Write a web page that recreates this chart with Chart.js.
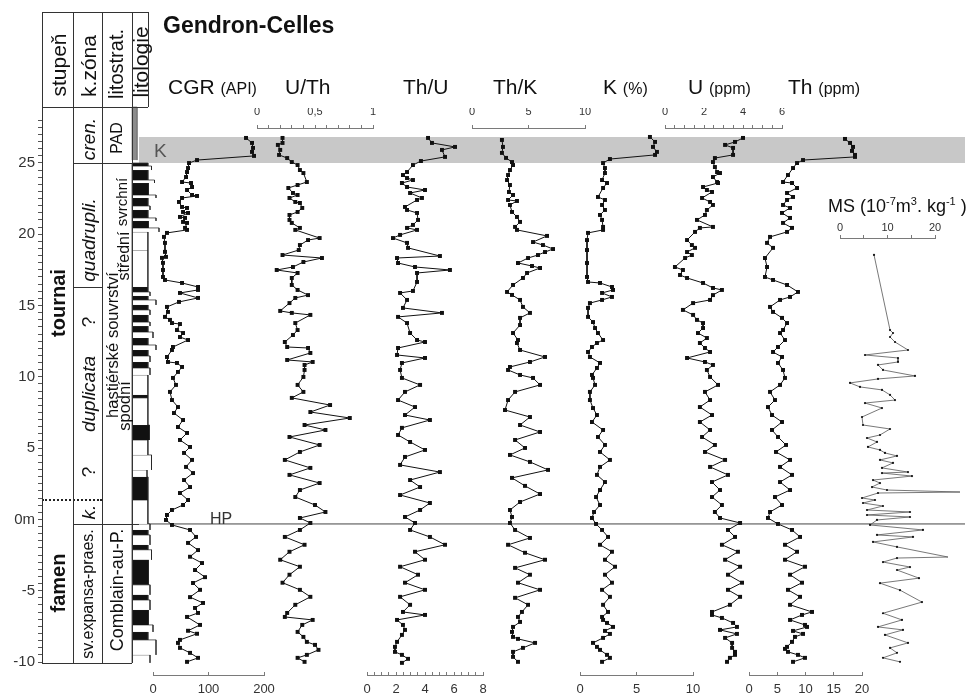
<!DOCTYPE html>
<html><head><meta charset="utf-8">
<script src="https://cdn.jsdelivr.net/npm/chart.js@4.4.1/dist/chart.umd.min.js"></script>
<style>
html,body{margin:0;padding:0;background:#fff}
body{position:relative;width:968px;height:697px;overflow:hidden;font-family:"Liberation Sans",Arial,Helvetica,sans-serif;color:#111}
#charts{position:absolute;left:0;top:0;width:968px;height:697px}
canvas.layer{position:absolute;left:0;top:0}
.t{position:absolute;white-space:nowrap;transform:translateY(-50%);line-height:1}
.v{position:absolute;white-space:nowrap;line-height:1;transform:translate(-50%,-50%) rotate(-90deg)}
.h{position:absolute;height:0;border-top:1px solid #333}
.w{position:absolute;width:0;border-left:1px solid #333}
.s{font-size:16px}
sup{font-size:11px}
</style></head><body>
<div id="charts"></div>

<!-- strat table frame -->
<div class="h" style="left:42px;top:12px;width:106px"></div>
<div class="h" style="left:42px;top:107px;width:106px"></div>
<div class="h" style="left:42px;top:663px;width:90px"></div>
<div class="h" style="left:73px;top:163px;width:59px"></div>
<div class="h" style="left:73px;top:287px;width:29px"></div>
<div class="h" style="left:73px;top:524px;width:66px"></div>
<div class="h" style="left:42px;top:499px;width:60px;border-top:2px dotted #222"></div>
<div class="w" style="left:42px;top:12px;height:651px"></div>
<div class="w" style="left:73px;top:12px;height:651px"></div>
<div class="w" style="left:102px;top:12px;height:651px"></div>
<div class="w" style="left:132px;top:12px;height:651px"></div>
<div class="w" style="left:148px;top:12px;height:95px"></div>

<!-- header texts -->
<div class="v" style="left:58px;top:65px;font-size:21px">stupeň</div>
<div class="v" style="left:88px;top:66px;font-size:21px">k.zóna</div>
<div class="v" style="left:116px;top:64px;font-size:20px">litostrat.</div>
<div class="v" style="left:140px;top:62px;font-size:21px">litologie</div>

<div class="v" style="left:58px;top:303px;font-size:20px;font-weight:bold">tournai</div>
<div class="v" style="left:58px;top:583px;font-size:20px;font-weight:bold">famen</div>

<div class="v" style="left:88px;top:139px;font-size:19px;font-style:italic">cren.</div>
<div class="v" style="left:88px;top:240px;font-size:19px;font-style:italic">quadrupli.</div>
<div class="v" style="left:88px;top:322px;font-size:19px">?</div>
<div class="v" style="left:88px;top:394px;font-size:19px;font-style:italic">duplicata</div>
<div class="v" style="left:88px;top:472px;font-size:19px">?</div>
<div class="v" style="left:88px;top:512px;font-size:19px;font-style:italic">k.</div>
<div class="v" style="left:88px;top:594px;font-size:16px">sv.expansa-praes.</div>

<div class="v" style="left:117px;top:138px;font-size:16px">PAD</div>
<div class="v" style="left:121px;top:202px;font-size:15px">svrchní</div>
<div class="v" style="left:124px;top:256px;font-size:16px">střední</div>
<div class="v" style="left:112px;top:345px;font-size:16.5px">hastiérské souvrství</div>
<div class="v" style="left:124px;top:406px;font-size:16.5px">spodní</div>
<div class="v" style="left:117px;top:590px;font-size:18px">Comblain-au-P.</div>

<!-- titles -->
<div class="t" style="left:163px;top:25px;font-size:23px;font-weight:bold">Gendron-Celles</div>
<div class="t" style="left:168px;top:86px;font-size:21px">CGR <span class="s">(API)</span></div>
<div class="t" style="left:285px;top:86px;font-size:21px">U/Th</div>
<div class="t" style="left:403px;top:86px;font-size:21px">Th/U</div>
<div class="t" style="left:493px;top:86px;font-size:21px">Th/K</div>
<div class="t" style="left:603px;top:86px;font-size:21px">K <span class="s">(%)</span></div>
<div class="t" style="left:688px;top:86px;font-size:21px">U <span class="s">(ppm)</span></div>
<div class="t" style="left:788px;top:86px;font-size:21px">Th <span class="s">(ppm)</span></div>
<div class="t" style="left:828px;top:205px;font-size:18px">MS (10<sup>-7</sup>m<sup>3</sup>. kg<sup>-1</sup> )</div>
<div class="t" style="left:154px;top:150px;font-size:19px;color:#555">K</div>
<div class="t" style="left:210px;top:519px;font-size:16px;color:#333">HP</div>

<script>
// ---------------- DATA (depth in m, value) ----------------
const cgrLog = [[26.75,167.6],[26.40,178.4],[26.05,180.2],[25.77,178.4],[25.49,182.0],[25.20,79.3],[24.99,64.9],[24.64,63.1],[24.36,61.3],[24.01,59.5],[23.66,52.3],[23.59,68.5],[23.31,70.3],[23.10,61.3],[22.75,70.3],[22.68,79.3],[22.54,52.3],[22.26,46.8],[21.91,52.3],[21.84,61.3],[21.56,54.1],[21.49,63.1],[21.21,48.6],[21.14,57.7],[20.86,54.1],[20.79,61.3],[20.44,57.7],[20.30,61.3],[20.09,25.2],[19.81,19.8],[19.39,21.6],[18.76,21.6],[18.41,23.4],[18.34,16.2],[17.99,18.0],[17.49,18.0],[17.00,18.0],[16.79,21.6],[16.58,52.3],[16.30,81.1],[16.09,81.1],[15.88,48.6],[15.53,81.1],[15.25,46.8],[14.90,25.2],[14.55,27.0],[14.20,21.6],[13.99,30.6],[13.77,34.2],[13.70,48.6],[13.28,43.2],[13.07,54.1],[12.79,48.6],[12.58,63.1],[12.09,36.0],[11.88,34.2],[11.39,25.2],[11.04,27.0],[10.97,43.2],[10.69,52.3],[10.34,45.0],[9.92,36.0],
[9.43,41.4],[8.94,30.6],[8.37,34.2],[7.88,45.0],[7.46,37.8],[6.97,54.1],[6.48,45.0],[6.06,61.3],[5.57,48.6],[5.08,66.7],[4.66,55.9],[4.17,70.3],[3.68,59.5],[3.25,72.1],[2.76,55.9],[2.27,66.7],[1.85,48.6],[1.36,63.1],[1.01,54.1],[0.66,34.2],[0.31,25.2],[-0.04,23.4],[-0.39,34.2],[-0.74,66.7],[-1.23,77.5],[-1.65,63.1],[-2.15,81.1],[-2.62,66.7],[-3.06,88.3],[-3.55,75.7],[-4.05,93.7],[-4.46,72.1],[-4.94,84.7],[-5.45,66.7],[-5.86,90.1],[-6.21,75.7],[-6.56,81.1],[-6.84,61.3],[-7.40,84.7],[-7.81,63.1],[-8.02,79.3],[-8.45,48.6],[-8.66,45.0],[-9.01,48.6],[-9.36,66.7],[-9.71,81.1],[-9.99,61.3]];

const uThLog = [[26.75,0.22],[26.40,0.22],[26.26,0.18],[25.91,0.20],[25.56,0.19],[25.34,0.26],[25.06,0.30],[24.85,0.35],[24.50,0.37],[24.29,0.40],[23.66,0.43],[23.45,0.35],[23.24,0.27],[22.89,0.31],[22.75,0.35],[22.54,0.28],[22.26,0.33],[22.19,0.37],[21.84,0.39],[21.56,0.35],[21.35,0.28],[21.00,0.28],[20.79,0.30],[20.44,0.37],[20.30,0.33],[19.73,0.54],[19.59,0.44],[19.24,0.37],[18.89,0.36],[18.54,0.22],[18.33,0.56],[18.05,0.40],[17.70,0.31],[17.49,0.17],[17.28,0.35],[16.93,0.30],[16.44,0.30],[16.09,0.35],[15.73,0.44],[15.53,0.33],[15.17,0.28],[14.62,0.20],[14.48,0.30],[14.34,0.46],[13.77,0.33],[13.28,0.35],[12.93,0.31],[12.44,0.24],[12.09,0.26],[12.02,0.44],[11.67,0.46],[11.18,0.26],[11.04,0.48],[10.83,0.41],[10.48,0.41],[9.99,0.40],
[9.43,0.35],[8.94,0.40],[8.52,0.30],[8.02,0.63],[7.53,0.46],[7.11,0.80],[6.62,0.41],[6.27,0.59],[5.78,0.28],[5.22,0.54],[4.73,0.37],[4.17,0.24],[3.61,0.46],[3.12,0.28],[2.55,0.54],[2.06,0.37],[1.57,0.33],[1.01,0.50],[0.52,0.59],[0.10,0.37],[-0.25,0.46],[-0.74,0.37],[-1.23,0.24],[-1.78,0.41],[-2.27,0.28],[-2.83,0.20],[-3.32,0.37],[-3.88,0.28],[-4.44,0.22],[-4.94,0.37],[-5.43,0.46],[-5.99,0.33],[-6.56,0.26],[-6.84,0.24],[-7.05,0.48],[-7.40,0.39],[-7.89,0.35],[-8.24,0.40],[-8.59,0.43],[-8.80,0.50],[-9.15,0.53],[-9.50,0.43],[-9.71,0.35],[-9.99,0.41]];

const thULog = [[26.75,4.21],[26.40,4.48],[26.12,6.07],[25.91,5.17],[25.42,5.38],[25.13,3.72],[24.85,3.17],[24.36,2.76],[24.15,2.48],[23.94,2.76],[23.80,3.17],[23.59,2.41],[23.31,2.76],[23.10,4.00],[22.89,2.97],[22.54,3.79],[22.40,3.45],[21.91,2.62],[21.70,2.76],[21.49,3.45],[21.00,3.52],[20.65,3.17],[20.44,2.76],[20.30,3.45],[19.95,2.28],[19.73,1.79],[19.39,2.76],[19.04,2.83],[18.47,5.03],[18.33,2.07],[17.98,2.14],[17.70,3.31],[17.49,5.72],[17.28,3.45],[16.65,3.45],[16.02,3.17],[15.88,2.28],[15.39,2.76],[14.83,2.48],[14.48,5.17],[14.20,2.14],[13.77,2.76],[13.07,2.97],[12.58,3.45],[12.44,4.00],[12.02,2.14],[11.53,2.07],[11.32,4.00],[10.97,2.41],[10.48,2.28],[9.92,2.41],
[9.43,3.66],[8.94,2.62],[8.37,2.14],[7.88,3.31],[7.32,2.62],[6.97,4.34],[6.42,2.41],[5.92,2.14],[5.43,2.97],[4.87,4.00],[4.38,2.62],[3.82,2.28],[3.32,5.03],[2.76,2.97],[2.27,3.66],[1.71,2.28],[1.15,4.34],[0.66,3.66],[0.17,2.62],[-0.25,3.31],[-0.74,2.97],[-1.23,4.34],[-1.78,5.38],[-2.27,3.31],[-2.83,4.00],[-3.32,2.28],[-3.88,3.52],[-4.44,2.62],[-4.94,4.00],[-5.43,2.28],[-5.99,2.97],[-6.49,2.48],[-6.70,4.00],[-7.05,2.07],[-7.40,2.48],[-7.75,2.62],[-8.10,2.41],[-8.59,2.07],[-8.94,1.93],[-9.29,1.93],[-9.50,2.41],[-9.78,2.83],[-10.06,2.41]];

const thKLog = [[26.61,2.65],[26.12,2.74],[25.70,2.65],[25.35,3.01],[25.06,3.54],[24.85,3.63],[24.50,3.36],[24.15,3.19],[23.80,3.10],[23.45,3.36],[22.96,3.27],[22.75,3.63],[22.40,3.19],[22.33,3.98],[22.05,3.36],[21.56,3.54],[21.21,3.98],[20.86,4.25],[20.51,3.81],[20.30,3.98],[19.88,6.64],[19.45,5.40],[19.24,6.28],[18.96,7.17],[18.75,6.46],[18.54,5.84],[18.33,4.96],[17.98,4.07],[17.77,5.31],[17.63,6.02],[17.28,4.87],[16.93,4.51],[16.44,3.63],[15.95,3.10],[15.74,3.54],[15.39,4.25],[14.90,4.51],[14.48,5.13],[14.13,4.25],[13.63,4.25],[13.07,3.63],[12.58,4.07],[12.37,3.98],[11.88,4.25],[11.39,6.46],[11.04,5.13],[10.69,3.36],[10.48,3.19],[10.13,4.25],[9.92,5.40],
[9.43,6.02],[8.94,3.81],[8.37,3.19],[7.67,2.92],[7.18,5.13],[6.62,4.25],[6.13,6.02],[5.57,3.81],[5.01,4.69],[4.52,3.36],[4.03,5.13],[3.47,6.73],[2.91,3.54],[2.35,4.69],[1.78,6.02],[1.22,4.25],[0.66,3.36],[0.17,3.54],[-0.25,3.36],[-0.74,3.81],[-1.30,5.13],[-1.78,3.19],[-2.34,4.69],[-2.83,6.46],[-3.40,3.81],[-3.88,5.13],[-4.44,4.07],[-4.94,6.02],[-5.50,3.81],[-5.99,4.96],[-6.49,4.42],[-6.84,4.07],[-7.19,4.25],[-7.54,3.63],[-7.89,3.54],[-8.24,3.63],[-8.38,4.07],[-8.66,5.58],[-9.01,4.51],[-9.29,3.63],[-9.64,3.63],[-9.99,4.07]];

const kLog = [[26.82,6.19],[26.47,6.64],[26.12,6.46],[25.77,6.81],[25.56,6.64],[25.27,2.65],[24.99,2.04],[24.64,2.21],[24.29,2.21],[23.80,1.95],[23.59,2.39],[23.24,2.04],[22.61,1.59],[22.40,2.21],[22.05,1.95],[21.70,2.21],[21.35,1.77],[21.00,1.95],[20.51,2.04],[20.30,2.04],[20.09,0.71],[19.59,0.62],[18.89,0.62],[17.98,0.62],[17.00,0.62],[16.65,0.71],[16.58,1.77],[16.30,2.83],[16.09,2.92],[15.88,1.95],[15.60,2.83],[15.39,1.95],[15.17,0.88],[14.83,0.71],[14.20,0.71],[13.84,1.15],[13.42,1.33],[13.07,1.59],[12.58,2.04],[12.37,1.50],[12.09,1.06],[11.74,0.71],[11.39,0.88],[10.97,1.77],[10.62,1.50],[10.13,1.06],[9.92,1.15],
[9.43,1.33],[8.94,0.88],[8.37,0.88],[7.81,1.15],[7.32,1.50],[6.83,1.06],[6.27,2.04],[5.78,1.59],[5.22,2.21],[4.73,1.77],[4.17,2.65],[3.68,1.77],[3.12,1.50],[2.62,2.21],[2.06,1.77],[1.57,1.42],[1.01,1.77],[0.52,1.24],[0.10,1.06],[-0.32,1.42],[-0.74,1.95],[-1.23,2.48],[-1.78,1.77],[-2.27,2.83],[-2.83,2.21],[-3.32,3.10],[-3.88,2.21],[-4.44,2.83],[-4.94,1.95],[-5.43,2.65],[-5.99,2.04],[-6.49,2.48],[-6.84,1.95],[-7.05,2.04],[-7.26,2.39],[-7.54,2.92],[-7.82,2.21],[-8.03,2.65],[-8.31,2.04],[-8.66,1.15],[-8.94,1.50],[-9.15,1.77],[-9.50,2.39],[-9.71,2.65],[-9.99,1.95]];

const uLog = [[26.75,4.00],[26.47,3.59],[26.26,3.08],[26.05,3.49],[25.56,3.49],[25.34,2.56],[25.06,2.46],[24.71,2.56],[24.36,2.67],[24.29,2.82],[24.01,2.46],[23.66,2.67],[23.59,2.72],[23.31,1.95],[23.10,2.15],[22.96,2.41],[22.54,1.90],[22.26,2.31],[22.05,2.46],[21.70,2.15],[21.35,2.05],[21.00,1.64],[20.51,2.46],[20.44,1.79],[20.16,1.54],[19.59,1.13],[19.24,1.38],[19.04,1.54],[18.75,1.13],[18.54,1.38],[18.33,1.03],[17.70,0.51],[17.49,0.92],[17.14,0.77],[16.93,1.13],[16.58,1.95],[16.23,2.46],[16.09,2.92],[15.73,2.46],[15.39,2.31],[15.17,1.44],[14.69,0.92],[14.34,1.44],[13.99,1.64],[13.77,1.95],[13.42,1.95],[13.07,1.69],[12.72,2.15],[12.37,1.79],[12.02,2.05],[11.74,2.31],[11.32,1.13],[11.04,2.05],[10.83,2.46],[10.48,2.15],[9.99,2.31],
[9.43,2.72],[8.94,2.05],[8.37,2.31],[7.88,1.79],[7.32,2.41],[6.83,1.79],[6.27,2.31],[5.78,1.90],[5.22,2.56],[4.73,2.05],[4.17,3.08],[3.68,2.31],[3.12,3.23],[2.62,2.41],[2.06,2.82],[1.57,2.41],[1.01,2.92],[0.52,2.56],[0.10,2.82],[-0.25,3.85],[-0.74,3.23],[-1.23,3.59],[-1.78,2.92],[-2.27,3.74],[-2.83,3.08],[-3.32,3.85],[-3.88,3.23],[-4.44,3.95],[-4.94,3.23],[-5.43,3.85],[-5.99,3.33],[-6.49,2.41],[-6.70,2.41],[-6.91,2.92],[-7.26,3.49],[-7.54,3.69],[-7.75,2.82],[-8.03,3.69],[-8.31,3.08],[-8.66,3.44],[-9.01,3.44],[-9.29,3.59],[-9.50,3.59],[-9.71,3.33],[-9.99,3.18]];

const thLog = [[26.68,16.99],[26.40,17.88],[26.12,18.41],[25.84,18.23],[25.56,18.76],[25.42,18.76],[25.20,9.56],[24.99,8.50],[24.64,7.79],[24.15,6.90],[23.66,6.02],[23.59,7.61],[23.24,8.50],[22.89,6.73],[22.61,7.79],[22.40,6.73],[22.05,6.02],[21.84,7.26],[21.49,5.84],[21.14,7.26],[20.79,6.02],[20.44,7.61],[20.16,6.73],[19.81,3.72],[19.39,3.19],[19.04,4.25],[18.33,2.83],[17.70,3.19],[17.00,2.83],[16.79,4.25],[16.44,6.73],[15.95,8.67],[15.60,7.26],[15.39,5.49],[14.90,3.72],[14.55,4.25],[14.13,5.84],[13.77,6.73],[13.28,6.02],[13.07,5.49],[12.58,6.37],[12.09,5.13],[11.74,4.25],[11.39,5.84],[10.97,5.13],[10.48,6.02],[9.92,6.37],
[9.43,5.49],[8.94,3.72],[8.37,4.60],[7.88,3.36],[7.32,4.07],[6.83,5.84],[6.27,4.07],[5.78,5.13],[5.22,6.55],[4.73,4.78],[4.17,7.26],[3.68,5.49],[3.12,7.61],[2.62,5.49],[2.06,7.26],[1.57,4.60],[1.01,5.84],[0.52,3.72],[0.10,3.36],[-0.32,5.13],[-0.74,7.61],[-1.23,9.03],[-1.78,6.37],[-2.27,8.50],[-2.83,6.37],[-3.32,9.91],[-3.88,7.26],[-4.44,9.38],[-4.94,6.90],[-5.43,9.03],[-5.99,7.26],[-6.49,11.15],[-6.70,9.38],[-7.05,7.26],[-7.40,9.91],[-7.54,10.27],[-7.82,7.79],[-8.03,9.56],[-8.24,8.14],[-8.59,7.61],[-8.94,6.73],[-9.08,6.37],[-9.29,6.90],[-9.50,8.67],[-9.71,9.91],[-9.99,7.79]];

const msLog = [[18.55,7.16],[13.28,10.53],[13.07,11.16],[12.79,10.53],[12.44,11.58],[11.88,14.32],[11.53,5.26],[11.32,12.21],[11.04,12.21],[10.83,8.00],[10.48,9.05],[10.06,15.79],[9.85,8.00],[9.57,2.11],[9.29,4.21],[9.08,8.84],[8.73,10.53],[8.37,11.58],[8.16,5.26],[7.81,8.84],[7.18,4.63],[6.62,4.84],[6.34,10.53],[5.92,8.42],[5.71,5.68],[5.43,7.79],[5.08,5.89],[4.87,8.42],[4.66,9.47],[4.45,12.00],[4.17,8.42],[3.96,11.16],[3.61,8.84],[3.32,14.32],[3.25,8.84],[3.04,15.16],[2.76,6.95],[2.55,8.42],[2.27,6.74],[2.06,9.89],[1.92,25.26],[1.85,8.00],[1.50,4.63],[1.36,7.37],[1.15,4.84],[0.94,9.05],[0.66,5.68],[0.52,14.74],[0.31,5.68],[0.17,14.74],[-0.04,7.79],[-0.39,6.32],[-0.74,17.47],[-1.09,7.79],[-1.23,15.37],[-1.58,6.95],[-1.93,12.00],[-2.64,22.74],[-2.71,12.00],[-2.99,9.05],[-3.34,14.74],[-3.55,12.00],[-4.12,16.63],[-4.47,8.42],[-4.96,12.63],[-5.80,17.26],[-6.58,9.05],[-7.05,13.05],[-7.54,8.00],[-7.75,13.26],[-8.10,9.47],[-8.66,14.32],[-9.01,10.53],[-9.36,12.00],[-9.71,9.05],[-9.99,12.63]];

// lithology beds: [top m, base m, relative width, type] (k = black, w = white, g = grey)
const lithoBeds = [[28.92,25.20,1.7,'g'],[24.99,24.78,5.3,'k'],[24.78,24.50,6.5,'w'],[24.50,23.80,5.3,'k'],[23.80,23.59,7.5,'w'],[23.59,22.75,5.5,'k'],[22.75,22.54,8,'w'],[22.54,21.98,5.3,'k'],[21.98,21.70,6,'w'],[21.70,21.14,5.3,'k'],[21.14,20.93,8,'w'],[20.93,20.44,5.5,'k'],[20.44,20.16,9,'w'],[20.16,18.89,5.3,'w'],[18.89,16.30,5.3,'w'],[16.30,15.95,5.3,'k'],[15.95,15.67,6,'w'],[15.67,15.39,5.3,'k'],[15.39,15.04,8,'w'],[15.04,14.69,5.3,'k'],[14.69,14.34,6,'w'],[14.34,13.84,5.3,'k'],[13.84,13.56,6,'w'],[13.56,13.14,5.3,'k'],[13.14,12.72,7,'w'],[12.72,12.23,5.3,'k'],[12.23,11.88,8,'w'],[11.88,11.46,5.3,'k'],[11.46,11.04,6,'w'],[11.04,10.62,5.3,'k'],[10.62,10.13,6,'w'],[10.13,8.73,5.3,'w'],[8.73,8.52,5.3,'k'],[8.52,6.62,5.3,'w'],[6.62,5.57,5.8,'k'],[5.57,4.52,5.3,'w'],[4.52,3.47,6.5,'w'],[3.47,2.98,5,'w'],[2.98,1.36,5.3,'k'],[1.36,-0.32,5.3,'w'],[-0.32,-0.74,6,'w'],[-0.74,-1.09,5.3,'k'],[-1.09,-1.79,6,'w'],[-1.79,-2.13,5.3,'k'],[-2.13,-2.83,6.5,'w'],[-2.83,-4.59,5.5,'k'],[-4.59,-5.29,6,'w'],[-5.29,-5.65,5.3,'k'],[-5.65,-6.35,6,'w'],[-6.35,-7.40,5.5,'k'],[-7.40,-7.89,7,'w'],[-7.89,-8.45,5.3,'k'],[-8.45,-9.50,8,'w'],[-9.50,-10.06,6,'w']];

const kBand = [26.82, 25.0];   // depth of the grey "K" interval
const hpDepth = -0.32;         // HP boundary

// ---------------- LAYOUT ----------------
const PAGE_W = 968, PAGE_H = 697;
const Y_ZERO = 519.4, PX_PER_M = 14.26;
const depthAt = py => (Y_ZERO - py) / PX_PER_M;
const FONT = '"Liberation Sans", Arial, sans-serif';
const host = document.getElementById('charts');
function layer(){ const c = document.createElement('canvas'); c.width = PAGE_W; c.height = PAGE_H; c.className = 'layer'; host.appendChild(c); return c.getContext('2d'); }
function baseOpts(pad){ return {responsive:false, animation:false, events:[], devicePixelRatio:1, layout:{padding:pad}, plugins:{legend:{display:false}, tooltip:{enabled:false}}}; }

// background: K band + HP line
(function(){
  const top = 128, bottom = 675;
  const o = baseOpts({left:139, right:PAGE_W-965, top:top, bottom:PAGE_H-bottom});
  o.scales = {x:{display:false,min:0,max:1}, y:{display:false,min:depthAt(bottom),max:depthAt(top)}};
  new Chart(layer(), {type:'scatter', data:{datasets:[
    {data:[{x:0,y:kBand[0]},{x:1,y:kBand[0]}], showLine:true, fill:{value:kBand[1]}, backgroundColor:'#c8c8c8', borderWidth:0, pointRadius:0, clip:false},
    {data:[{x:0,y:hpDepth},{x:1,y:hpDepth}], showLine:true, fill:false, borderColor:'#444', borderWidth:1, pointRadius:0, clip:false}
  ]}, options:o});
})();

// lithology column
(function(){
  const top = 107, bottom = 663;
  const o = baseOpts({left:132, right:PAGE_W-162, top:top, bottom:PAGE_H-bottom});
  o.scales = {x:{display:false,min:0,max:10}, y:{display:false,min:depthAt(bottom),max:depthAt(top)}};
  const fills = {k:'#111', w:'#fff', g:'#8c8c8c'};
  const ds = lithoBeds.map(([t,b,w,f]) => ({
    data:[{x:0,y:b},{x:0,y:t},{x:w,y:t},{x:w,y:b}], showLine:true, fill:{value:b},
    backgroundColor:fills[f], borderColor: f==='g' ? '#777' : '#222', borderWidth:0.7, pointRadius:0, clip:false
  }));
  new Chart(layer(), {type:'scatter', data:{datasets:ds}, options:o});
})();

// depth ruler
(function(){
  const top = 118, bottom = 663, W = 40;
  const o = baseOpts({left:42-W, right:PAGE_W-44, top:top, bottom:PAGE_H-bottom});
  o.scales = {
    x:{display:false,min:0,max:1},
    y:{position:'left', min:depthAt(bottom), max:depthAt(top), afterFit:s=>{s.width=W;},
       border:{display:true,color:'#444',width:1},
       grid:{drawOnChartArea:false, drawTicks:true, tickLength:4, color:'#555'},
       ticks:{stepSize:0.5, autoSkip:false, includeBounds:false, padding:3, color:'#333', font:{size:15,family:FONT},
              callback:v => (Math.abs(v%5)<1e-9) ? (v===0 ? '0m' : String(v)) : ''}}
  };
  new Chart(layer(), {type:'scatter', data:{datasets:[]}, options:o});
})();

// log tracks
const AX_H = 20, TRACK_TOP = 128, TRACK_BOTTOM = 675;
const tracks = [
  {log:cgrLog, min:0, max:200, px:[153,264], ruler:'bottom', step:100, every:100},
  {log:uThLog, min:0, max:1,   px:[257,373], ruler:'top',    step:0.1, every:0.5},
  {log:thULog, min:0, max:8,   px:[367,483], ruler:'bottom', step:0.5, every:2},
  {log:thKLog, min:0, max:10,  px:[472,585], ruler:'top',    step:5,   every:5},
  {log:kLog,   min:0, max:10,  px:[580,693], ruler:'bottom', step:5,   every:5},
  {log:uLog,   min:0, max:6,   px:[665,782], ruler:'top',    step:0.5, every:2},
  {log:thLog,  min:0, max:20,  px:[749,862], ruler:'bottom', step:5,   every:5},
  {log:msLog,  min:0, max:20,  px:[840,935], ruler:'top',    step:5,   every:10, rulerY:238, thin:true}
];
tracks.forEach(cfg => {
  const isTop = cfg.ruler === 'top';
  const top = cfg.rulerY || TRACK_TOP, bottom = TRACK_BOTTOM;
  const o = baseOpts({left:cfg.px[0], right:PAGE_W-cfg.px[1],
    top: isTop ? top-AX_H : top, bottom: isTop ? PAGE_H-bottom : PAGE_H-bottom-AX_H});
  const labelPad = isTop ? (cfg.rulerY ? 0.5 : 6.4) : 9.2;
  o.scales = {
    x:{type:'linear', position:cfg.ruler, min:cfg.min, max:cfg.max, afterFit:s=>{s.height=AX_H;},
       border:{display:true,color:'#7a7a7a',width:1},
       grid:{drawOnChartArea:false, drawTicks:true, tickLength: isTop ? 3 : -3, color:'#7a7a7a'},
       ticks:{stepSize:cfg.step, autoSkip:false, maxRotation:0, includeBounds:false, padding:labelPad, color:'#333',
              font:{size: isTop ? 11 : 13, family:FONT},
              callback:v => {const r = v/cfg.every; return Math.abs(r-Math.round(r))<1e-6 ? String(+v.toFixed(2)).replace('.',',') : '';}}},
    y:{type:'linear', display:false, min:depthAt(bottom), max:depthAt(top)}
  };
  const ds = {
    data: cfg.log.map(([d,v]) => ({x:v, y:d})), showLine:true, clip:false,
    borderColor: cfg.thin ? '#555' : '#111', borderWidth: cfg.thin ? 0.8 : 1,
    pointStyle: cfg.thin ? 'circle' : 'rect', pointRadius: cfg.thin ? 1.1 : 2.8,
    pointBackgroundColor:'#111', pointBorderWidth:0
  };
  new Chart(layer(), {type:'scatter', data:{datasets:[ds]}, options:o});
});
</script>
</body></html>
